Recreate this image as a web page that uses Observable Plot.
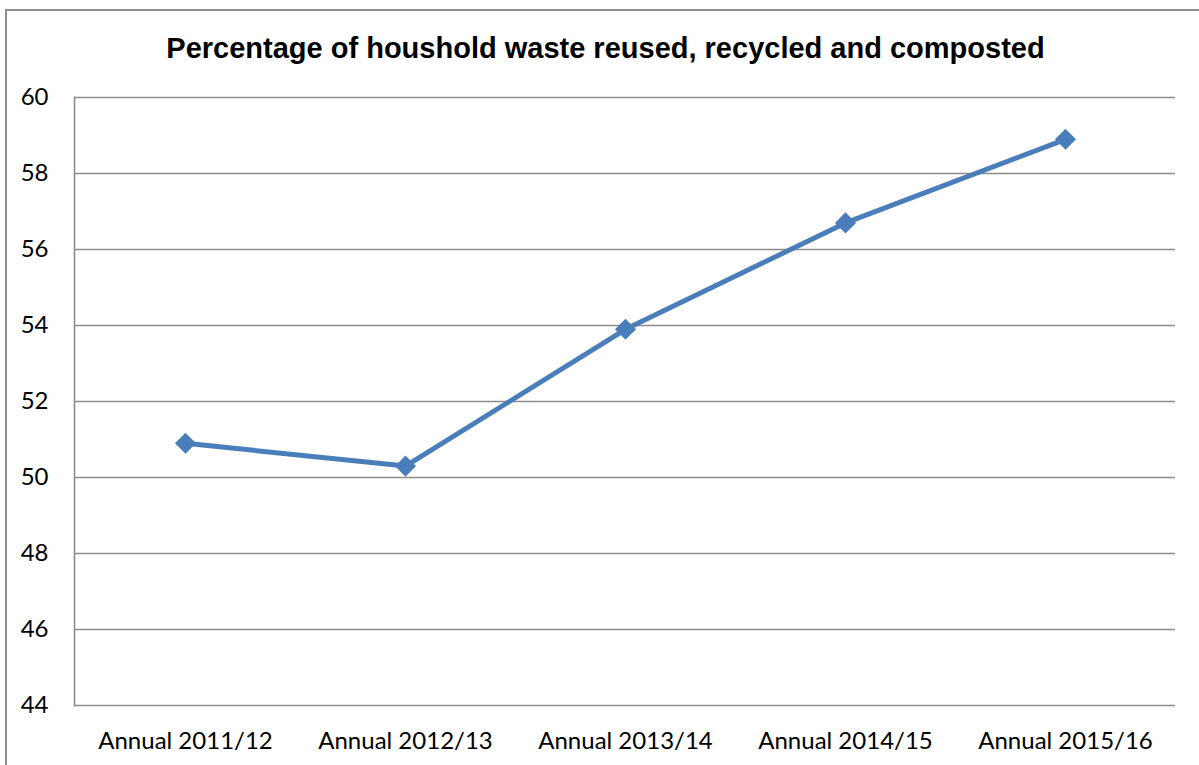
<!DOCTYPE html>
<html>
<head>
<meta charset="utf-8">
<script src="https://cdn.jsdelivr.net/npm/d3@7"></script>
<script src="https://cdn.jsdelivr.net/npm/@observablehq/plot@0.6"></script>
<style>
  html, body { margin: 0; padding: 0; background: #fff; }
  #wrap { position: relative; width: 1199px; height: 765px; overflow: hidden; }
  #frame { position: absolute; left: 5px; top: 9px; width: 1300px; height: 900px; border: 2px solid #8c8c8c; box-sizing: border-box; }
  #title { position: relative; height: 80px; width: 1199px; text-align: center; font-family: "Liberation Sans", Arial, sans-serif; font-weight: bold; font-size: 29px; line-height: 34px; color: #000; box-sizing: border-box; padding-top: 31px; padding-left: 12px; }
  #chart { position: relative; }
</style>
</head>
<body>
<div id="wrap">
  <div id="frame"></div>
  <div id="title">Percentage of houshold waste reused, recycled and composted</div>
  <div id="chart"></div>
</div>
<script>
const categories = ["Annual 2011/12", "Annual 2012/13", "Annual 2013/14", "Annual 2014/15", "Annual 2015/16"];
const values = [50.9, 50.3, 53.9, 56.7, 58.9];
const yTicks = [44, 46, 48, 50, 52, 54, 56, 58, 60];

const data = categories.map((c, i) => ({category: c, value: values[i]}));

const plot = Plot.plot({
  width: 1199,
  height: 685,
  marginTop: 17,
  marginBottom: 60,
  marginLeft: 74,
  marginRight: 24,
  style: {fontFamily: "Lato, 'Open Sans', sans-serif", fontSize: "24px", color: "#000", background: "transparent"},
  x: {type: "point", domain: categories, padding: 0.5, label: null},
  y: {domain: [44, 60], ticks: yTicks, label: null},
  marks: [
    Plot.gridY(yTicks, {stroke: "#8c8c8c", strokeOpacity: 1, strokeWidth: 1.6}),
    Plot.frame({anchor: "left", stroke: "#8c8c8c", strokeWidth: 1.6}),
    Plot.axisY({ticks: yTicks, tickSize: 0, tickPadding: 26, fontSize: 24, label: null}),
    Plot.axisX({tickSize: 0, tickPadding: 26, fontSize: 24, label: null}),
    Plot.line(data, {x: "category", y: "value", stroke: "#4a7ebb", strokeWidth: 5}),
    Plot.dot(data, {x: "category", y: "value", symbol: "diamond2", r: 9.5, fill: "#4a7ebb", stroke: "none"})
  ]
});
document.getElementById("chart").appendChild(plot);
</script>
</body>
</html>
